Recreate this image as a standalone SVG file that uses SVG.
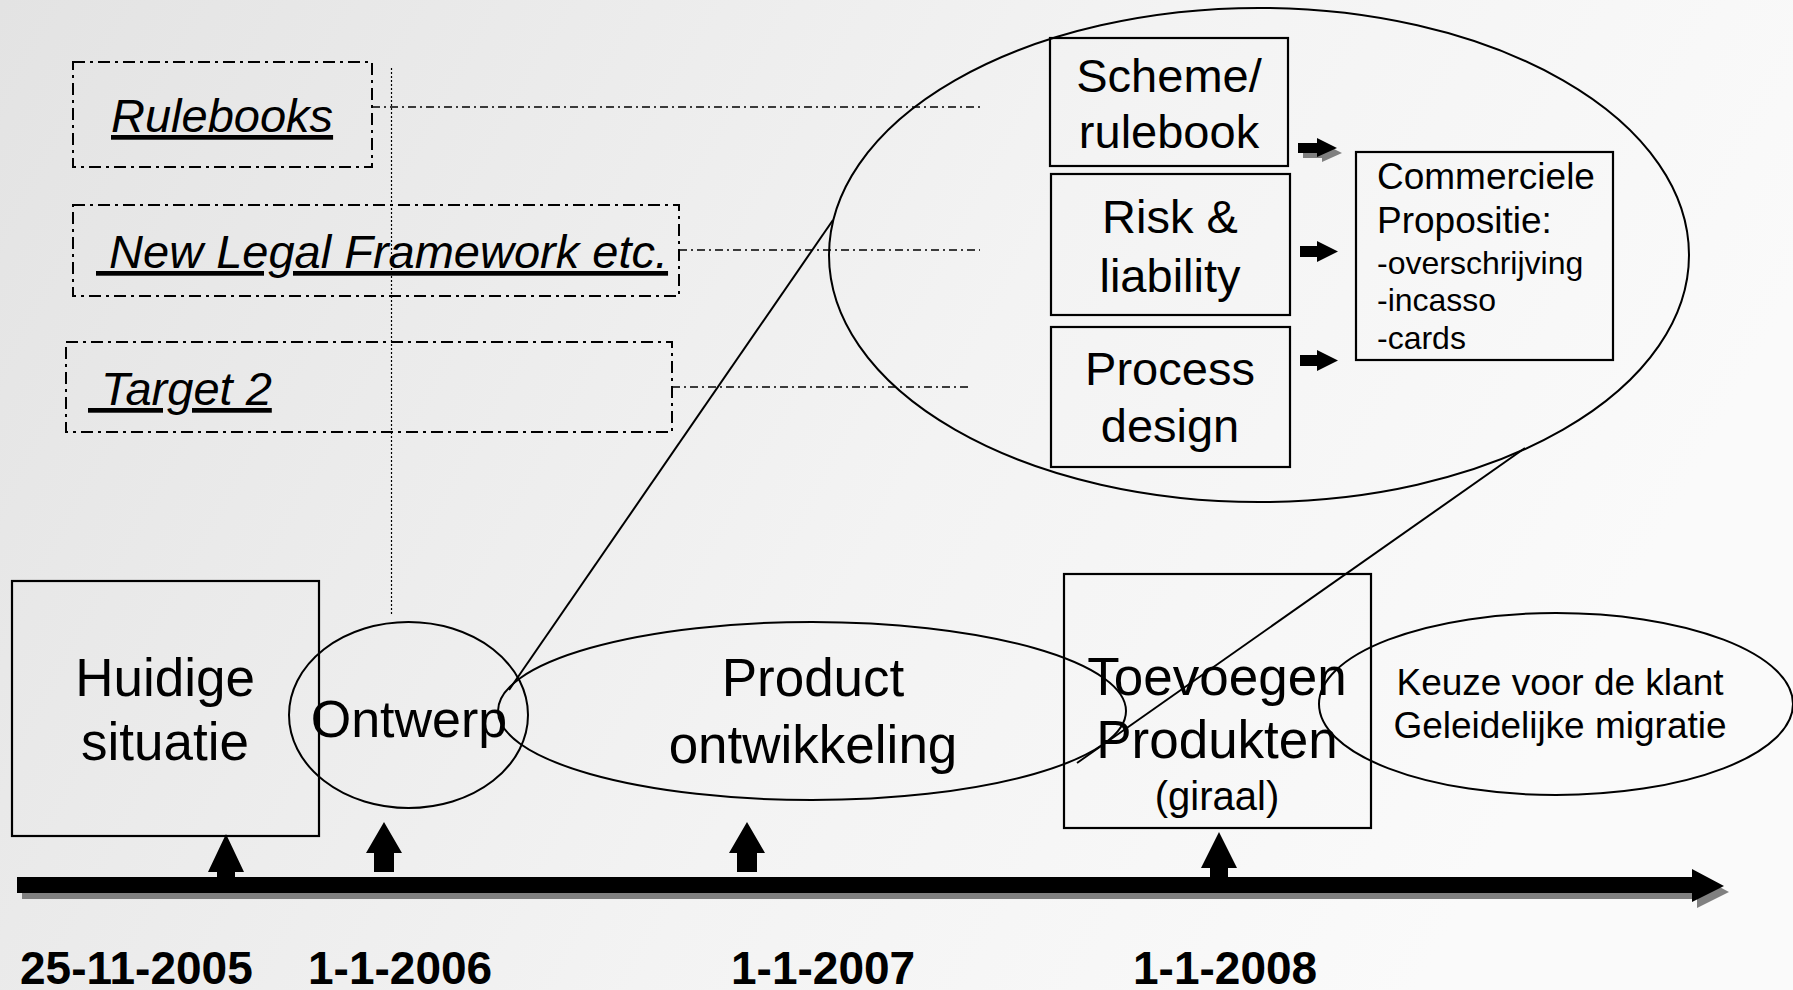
<svg xmlns="http://www.w3.org/2000/svg" width="1793" height="990" viewBox="0 0 1793 990">
<defs>
<linearGradient id="bg" x1="0" y1="0" x2="1" y2="0.3">
<stop offset="0" stop-color="#e3e3e3"/>
<stop offset="0.6" stop-color="#f3f3f3"/>
<stop offset="1" stop-color="#fafafa"/>
</linearGradient>
<style>
text{font-family:"Liberation Sans",Arial,sans-serif;fill:#000}
.c{text-anchor:middle}
.it{font-style:italic;font-size:47px;text-decoration:underline;white-space:pre}
.dd{fill:none;stroke:#000;stroke-width:2;stroke-dasharray:12 5 3 5}
.hl{fill:none;stroke:#000;stroke-width:1.4;stroke-dasharray:8 4 2 4}
.box{fill:none;stroke:#000;stroke-width:2.2}
.el{fill:none;stroke:#000;stroke-width:2}
.date{font-weight:bold;font-size:46px}
</style>
</defs>
<rect x="0" y="0" width="1793" height="990" fill="url(#bg)"/>

<g id="connectors">
<line x1="391.5" y1="68" x2="391.5" y2="615" stroke="#000" stroke-width="1.2" stroke-dasharray="2 2"/>
<line class="hl" x1="372" y1="107" x2="980" y2="107"/>
<line class="hl" x1="679" y1="250" x2="980" y2="250"/>
<line class="hl" x1="672" y1="387" x2="972" y2="387"/>
<line x1="509" y1="690" x2="833" y2="220" stroke="#000" stroke-width="2"/>
<line x1="1525" y1="448" x2="1077" y2="763" stroke="#000" stroke-width="2"/>
<polygon points="1303,148 1322,148 1322,143 1342,153 1322,162 1322,158 1303,158" fill="#808080"/>
<polygon points="1298,143 1317,143 1317,138 1337,148 1317,157 1317,153 1298,153" fill="#000"/>
<polygon points="1300,246 1317,246 1317,241 1338,251.5 1317,262 1317,257 1300,257" fill="#000"/>
<polygon points="1300,355 1317,355 1317,350 1338,360.5 1317,371 1317,366 1300,366" fill="#000"/>
<g id="timeline">
<polygon points="22,883 1697,883 1697,875 1729,892 1697,908 1697,899 22,899" fill="#808080"/>
<polygon points="17,877 1692,877 1692,869 1724,886 1692,902 1692,893 17,893" fill="#000"/>
<polygon points="226,834 244,872 235,872 235,878 217,878 217,872 208,872" fill="#000"/>
<polygon points="384,822 402,853 394,853 394,872 374,872 374,853 366,853" fill="#000"/>
<polygon points="747,822 765,853 757,853 757,872 737,872 737,853 729,853" fill="#000"/>
<polygon points="1219,832 1237,868 1228,868 1228,878 1210,878 1210,868 1201,868" fill="#000"/>
</g>
</g>

<g id="rulebooks">
<rect class="dd" x="73" y="62" width="299" height="105"/>
<text class="it" x="111" y="132">Rulebooks</text>
</g>
<g id="legal">
<rect class="dd" x="73" y="205" width="606" height="91"/>
<text class="it" x="96" y="268"> New Legal Framework etc.</text>
</g>
<g id="target2">
<rect class="dd" x="66" y="342" width="606" height="90"/>
<text class="it" x="88" y="405"> Target 2</text>
</g>

<g id="zoom-ellipse">
<ellipse class="el" cx="1259" cy="255" rx="430" ry="247"/>
</g>
<g id="scheme">
<rect class="box" x="1050" y="38" width="238" height="128"/>
<text class="c" x="1169" y="92" font-size="47">Scheme/</text>
<text class="c" x="1169" y="148" font-size="47">rulebook</text>
</g>
<g id="risk">
<rect class="box" x="1051" y="174" width="239" height="141"/>
<text class="c" x="1170" y="233" font-size="47">Risk &amp;</text>
<text class="c" x="1170" y="292" font-size="47">liability</text>
</g>
<g id="process">
<rect class="box" x="1051" y="327" width="239" height="140"/>
<text class="c" x="1170" y="385" font-size="47">Process</text>
<text class="c" x="1170" y="442" font-size="47">design</text>
</g>
<g id="commercieel">
<rect class="box" x="1356" y="152" width="257" height="208"/>
<text x="1377" y="189" font-size="37">Commerciele</text>
<text x="1377" y="233" font-size="37">Propositie:</text>
<text x="1377" y="274" font-size="32">-overschrijving</text>
<text x="1377" y="311" font-size="32">-incasso</text>
<text x="1377" y="349" font-size="32">-cards</text>
</g>

<g id="huidige">
<rect class="box" x="12" y="581" width="307" height="255"/>
<text class="c" x="165" y="696" font-size="53">Huidige</text>
<text class="c" x="165" y="760" font-size="53">situatie</text>
</g>
<g id="ontwerp">
<ellipse class="el" cx="408.5" cy="715" rx="119.5" ry="93"/>
<text class="c" x="409" y="737" font-size="52">Ontwerp</text>
</g>
<g id="product">
<ellipse class="el" cx="812" cy="711" rx="314" ry="89"/>
<text class="c" x="813" y="696" font-size="53">Product</text>
<text class="c" x="813" y="763" font-size="53">ontwikkeling</text>
</g>
<g id="toevoegen">
<rect class="box" x="1064" y="574" width="307" height="254"/>
<text class="c" x="1217" y="695" font-size="53">Toevoegen</text>
<text class="c" x="1217" y="758" font-size="53">Produkten</text>
<text class="c" x="1217" y="810" font-size="40">(giraal)</text>
</g>
<g id="keuze">
<ellipse class="el" cx="1556" cy="704" rx="237" ry="91"/>
<text class="c" x="1560" y="695" font-size="37">Keuze voor de klant</text>
<text class="c" x="1560" y="738" font-size="37">Geleidelijke migratie</text>
</g>

<g id="dates">
<text class="date" x="20" y="984">25-11-2005</text>
<text class="date" x="308" y="984">1-1-2006</text>
<text class="date" x="731" y="984">1-1-2007</text>
<text class="date" x="1133" y="984">1-1-2008</text>
</g>
</svg>
